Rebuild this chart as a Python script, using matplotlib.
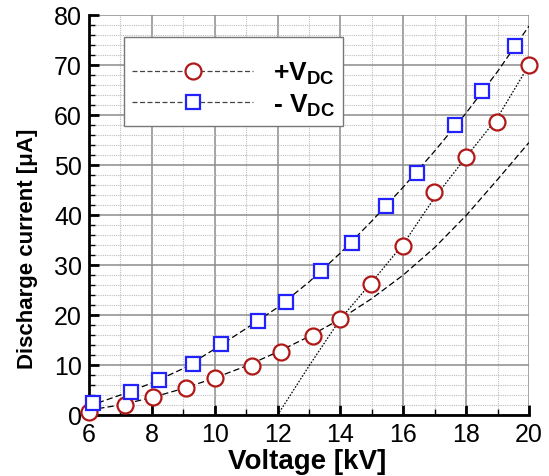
import numpy as np
import matplotlib
matplotlib.use('Agg')
import matplotlib.pyplot as plt
from matplotlib.lines import Line2D
from matplotlib.ticker import MultipleLocator

plt.rcParams['font.family'] = ['Liberation Sans', 'DejaVu Sans']
plt.rcParams['mathtext.fontset'] = 'custom'
plt.rcParams['mathtext.rm'] = 'Liberation Sans:bold'
plt.rcParams['mathtext.bf'] = 'Liberation Sans:bold'

# measured points, positive DC
pos_v = [6.0, 7.15, 8.03, 9.1, 10.0, 11.18, 12.1, 13.14, 14.0, 14.97, 15.98, 16.99, 18.0, 18.97, 19.99]
pos_i = [0.7, 2.0, 3.6, 5.4, 7.5, 9.9, 12.7, 15.9, 19.2, 26.3, 33.9, 44.7, 51.6, 58.7, 70.0]

# measured points, negative DC
neg_v = [6.14, 7.34, 8.23, 9.3, 10.19, 11.39, 12.27, 13.37, 14.36, 15.45, 16.45, 17.64, 18.52, 19.55]
neg_i = [2.4, 4.7, 7.1, 10.3, 14.2, 18.9, 22.7, 28.9, 34.5, 41.9, 48.5, 58.0, 64.8, 73.9]

# trend curves
trend_v = [6, 7, 8, 9, 10, 11, 12, 13, 14, 15, 16, 17, 18, 19, 20]
trend_neg = [1.8, 4.0, 6.4, 9.3, 13.2, 17.3, 21.5, 26.6, 32.4, 38.8, 45.6, 52.8, 60.4, 68.7, 77.8]
trend_pos_lo = [1.0, 2.0, 3.5, 5.3, 7.4, 9.8, 12.6, 15.7, 19.2, 23.3, 28.0, 33.5, 39.9, 47.1, 54.5]
trend_hi_v = [12, 13, 14, 15, 16, 17, 18, 19, 20]
trend_pos_hi = [0.0, 9.8, 19.2, 26.6, 34.2, 43.5, 51.6, 59.5, 70.0]

red = '#b01818'
blue = '#2222ff'

fig = plt.figure(figsize=(5.49, 4.77), dpi=100)
ax = fig.add_axes([89/549, 61/477, 440/549, 400/477])

ax.plot(trend_v, trend_neg, color='black', lw=0.9, dashes=(5, 2.5))
ax.plot(trend_v, trend_pos_lo, color='black', lw=0.9, dashes=(5, 2.5))
ax.plot(trend_hi_v, trend_pos_hi, color='black', lw=0.9, dashes=(1.3, 1.3))

ax.plot(pos_v, pos_i, 'o', ms=11.5, mfc='white', mec=red, mew=1.6, ls='none', clip_on=False, zorder=5)
ax.plot(neg_v, neg_i, 's', ms=10, mfc='white', mec=blue, mew=1.6, ls='none', clip_on=False, zorder=5)

ax.set_xlim(6, 20)
ax.set_ylim(0, 80)
ax.xaxis.set_major_locator(MultipleLocator(2))
ax.xaxis.set_minor_locator(MultipleLocator(1))
ax.yaxis.set_major_locator(MultipleLocator(10))
ax.yaxis.set_minor_locator(MultipleLocator(2))

ax.grid(which='major', color='#8c8c8c', lw=1.1)
ax.grid(which='minor', color='#bdbdbd', lw=0.8, ls=(0, (1, 1)))
ax.set_axisbelow(True)

for s in ['top', 'right']:
    ax.spines[s].set_visible(False)
for s in ['left', 'bottom']:
    ax.spines[s].set_linewidth(2)

ax.tick_params(which='major', direction='in', length=7, width=2, labelsize=18, pad=5)
ax.tick_params(which='minor', direction='in', length=4, width=1)

fig.text(307/549, 1 - 462/477, 'Voltage [kV]', ha='center', va='center',
         fontsize=20, fontweight='bold')
fig.text(28/549, 1 - 249/477, 'Discharge current [μA]', ha='center', va='center',
         rotation=90, fontsize=16, fontweight='bold')

handles = [
    Line2D([], [], color='#444444', lw=0.9, dashes=(4, 2), marker='o', ms=11.5,
           mfc='white', mec=red, mew=1.6),
    Line2D([], [], color='#444444', lw=0.9, dashes=(4, 2), marker='s', ms=10,
           mfc='white', mec=blue, mew=1.6),
]
labels = ['+$\\mathbf{V_{DC}}$', '- $\\mathbf{V_{DC}}$']
# blank title gives the extra room above the first row
leg = ax.legend(handles, labels, loc='upper left', title=' ', title_fontsize=8,
                bbox_to_anchor=((124 - 89) / 440, (416 - 38) / 400),
                borderaxespad=0, fancybox=False, framealpha=1, edgecolor='#777777',
                prop={'size': 19, 'weight': 'bold'}, handlelength=4.6,
                handletextpad=0.75, numpoints=1, borderpad=0.3, labelspacing=0.2)
leg.get_frame().set_linewidth(1)

fig.savefig('out.png', dpi=100)
